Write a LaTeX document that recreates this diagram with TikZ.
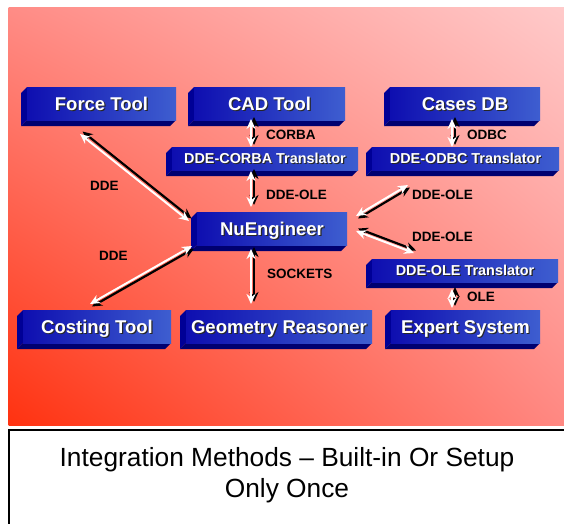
\documentclass[tikz,border=0pt]{standalone}
\usepackage{fontspec}
\setmainfont{Liberation Sans}
\usetikzlibrary{arrows.meta,calc,shadings}
\definecolor{bgUL}{RGB}{255,140,134}
\definecolor{bgUR}{RGB}{255,202,202}
\definecolor{bgLL}{RGB}{255,50,16}
\definecolor{bgLR}{RGB}{255,136,130}
\definecolor{boxL}{RGB}{14,14,176}
\definecolor{boxR}{RGB}{62,94,208}
\definecolor{boxside}{RGB}{0,0,150}
\definecolor{boxbot}{RGB}{0,0,112}
\tikzset{
  tipst/.style={{Stealth[length=10pt,width=9pt]}-{Stealth[length=10pt,width=9pt]}},
  conb/.style={draw=black, line width=2.2pt, tipst},
  conw/.style={draw=white, line width=2pt, tipst},
  lbl/.style={font=\fontsize{13.5}{15}\selectfont\bfseries, text=black, inner sep=0pt, anchor=west, text height=9.6pt, text depth=0pt},
  big/.style={font=\fontsize{18.5}{20}\selectfont\bfseries, inner sep=0pt, text height=13.2pt, text depth=0pt},
  small/.style={font=\fontsize{14.4}{16}\selectfont\bfseries, inner sep=0pt, text height=10.3pt, text depth=0pt},
  captxt/.style={font=\fontsize{26.3}{31}\selectfont, inner sep=0pt, anchor=base},
}
% #1 name, #2 x1, #3 y1, #4 x2, #5 y2, #6 style, #7 text
\newcommand\bevbox[7]{%
  \fill[boxside] (#2,#3) -- (#2-6,#3+6) -- (#2-6,#5+6) -- (#2,#5) -- cycle;
  \fill[boxbot] (#2,#5) -- (#2-6,#5+6) -- (#4-6,#5+6) -- (#4,#5) -- cycle;
  \shade[left color=boxL, right color=boxR] (#2,#3) rectangle (#4,#5);
  \node[#6, text=black!85] (#1s) at ({(#2+#4)/2+1.2},{(#3+#5)/2+1.2}) {#7};
  \node[#6, text=white] (#1) at ({(#2+#4)/2},{(#3+#5)/2}) {#7};
}
% #1 black shadow shift (x,y in pt, canvas), #2 start, #3 end
\newcommand\dualarrow[4]{%
  \draw[conb, transform canvas={xshift=#1, yshift=#2}] (#3) -- (#4);
  \draw[conw] (#3) -- (#4);
}
\begin{document}
\begin{tikzpicture}[x=1pt,y=-1pt]
\useasboundingbox (0,0) rectangle (564,523);
\fill[white] (0,0) rectangle (564,523);
\shade[upper left=bgUL, upper right=bgUR, lower left=bgLL, lower right=bgLR] (8.5,7.5) rectangle (564,425);
% caption box
\fill[white] (9,430) rectangle (564,523);
\draw[line width=2pt, line cap=rect] (9,526) -- (9,430) -- (566,430);
\node[captxt] (cap1) at (287,466) {Integration Methods – Built-in Or Setup};
\node[captxt] (cap2) at (287,497) {Only Once};

% boxes
\bevbox{force}{27}{87}{176}{120}{big}{Force Tool}
\bevbox{cad}{194}{87}{345}{120}{big}{CAD Tool}
\bevbox{cases}{390}{87}{540}{120}{big}{Cases DB}
\bevbox{corba}{172}{147}{358}{170}{small}{DDE-CORBA Translator}
\bevbox{odbc}{372}{147}{559}{170}{small}{DDE-ODBC Translator}
\bevbox{nu}{197}{212}{347}{245}{big}{NuEngineer}
\bevbox{ole}{372}{259}{558}{282}{small}{DDE-OLE Translator}
\bevbox{cost}{23}{310}{171}{343}{big}{Costing Tool}
\bevbox{geo}{186}{310}{372}{343}{big}{Geometry Reasoner}
\bevbox{exp}{391}{310}{540}{343}{big}{Expert System}

% connector end points
\coordinate (f1) at (80,134);  \coordinate (f2) at (189,221);
\coordinate (c1) at (90,304);  \coordinate (c2) at (192,246);
\coordinate (v1a) at (251,119); \coordinate (v1b) at (251,147);
\coordinate (v2a) at (251,171); \coordinate (v2b) at (251,207);
\coordinate (v3a) at (452,119); \coordinate (v3b) at (452,147);
\coordinate (d1a) at (356,216); \coordinate (d1b) at (408,185);
\coordinate (d2a) at (356,231); \coordinate (d2b) at (414,253);
\coordinate (v4a) at (251,249); \coordinate (v4b) at (251,304);
\coordinate (v5a) at (452,289); \coordinate (v5b) at (452,308);

% connectors: black shadow then white
\dualarrow{2.5pt}{2.5pt}{f1}{f2}
\dualarrow{2pt}{-2.5pt}{c1}{c2}
\dualarrow{3pt}{2pt}{v1a}{v1b}
\dualarrow{3pt}{2pt}{v2a}{v2b}
\dualarrow{3pt}{2pt}{v3a}{v3b}
\dualarrow{3pt}{2pt}{v4a}{v4b}
\dualarrow{3pt}{2pt}{v5a}{v5b}
\dualarrow{2pt}{-2.5pt}{d1a}{d1b}
\dualarrow{2pt}{2.5pt}{d2a}{d2b}

% labels
\node[lbl] (l1) at (266,135) {CORBA};
\node[lbl] (l2) at (467,135) {ODBC};
\node[lbl] (l3) at (266,195) {DDE-OLE};
\node[lbl] (l4) at (412,195) {DDE-OLE};
\node[lbl] (l5) at (412,237) {DDE-OLE};
\node[lbl] (l6) at (267,274) {SOCKETS};
\node[lbl] (l7) at (467,297) {OLE};
\node[lbl] (l8) at (90,186) {DDE};
\node[lbl] (l9) at (99,256) {DDE};
\end{tikzpicture}
\end{document}
